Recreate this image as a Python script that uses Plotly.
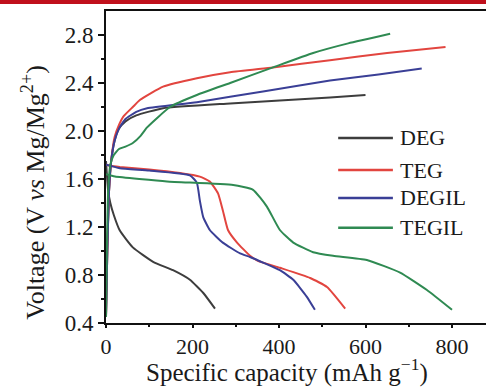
import plotly.graph_objects as go

# ---- data (capacity in mAh/g, voltage in V) ----
series_names = ["DEG", "TEG", "DEGIL", "TEGIL"]

deg_charge_cap = [0, 3, 7, 12, 20, 30, 45, 70, 132, 287, 518, 600]
deg_charge_v = [0.45, 1.0, 1.5, 1.75, 1.92, 2.02, 2.08, 2.13, 2.19, 2.23, 2.28, 2.3]
deg_dis_cap = [0, 5, 10, 18, 32, 62, 109, 155, 194, 225, 252]
deg_dis_v = [1.75, 1.5, 1.4, 1.3, 1.17, 1.03, 0.91, 0.84, 0.76, 0.65, 0.52]

teg_charge_cap = [0, 3, 7, 12, 20, 30, 40, 62, 79, 132, 210, 287, 386, 518, 650, 785]
teg_charge_v = [0.45, 1.0, 1.5, 1.75, 1.95, 2.05, 2.12, 2.2, 2.26, 2.37, 2.44, 2.49, 2.53, 2.59, 2.65, 2.7]
teg_dis_cap = [0, 10, 32, 100, 171, 217, 240, 259, 270, 282, 303, 333, 350, 402, 472, 511, 553]
teg_dis_v = [1.72, 1.71, 1.70, 1.68, 1.65, 1.62, 1.58, 1.48, 1.34, 1.175, 1.07, 0.96, 0.92, 0.86, 0.775, 0.70, 0.52]

degil_charge_cap = [0, 3, 7, 12, 20, 30, 45, 70, 95, 210, 363, 518, 630, 730]
degil_charge_v = [0.45, 1.0, 1.5, 1.75, 1.92, 2.02, 2.1, 2.16, 2.19, 2.24, 2.33, 2.42, 2.47, 2.52]
degil_dis_cap = [0, 10, 32, 100, 194, 210, 217, 225, 240, 270, 310, 333, 402, 433, 464, 483]
degil_dis_v = [1.72, 1.71, 1.69, 1.67, 1.63, 1.57, 1.42, 1.28, 1.175, 1.07, 0.98, 0.95, 0.84, 0.76, 0.62, 0.51]

tegil_charge_cap = [0, 2, 5, 10, 18, 30, 45, 62, 80, 95, 148, 210, 287, 386, 479, 560, 657]
tegil_charge_v = [0.45, 1.0, 1.5, 1.72, 1.8, 1.85, 1.87, 1.9, 1.96, 2.03, 2.2, 2.3, 2.4, 2.53, 2.65, 2.73, 2.81]
tegil_dis_cap = [0, 10, 21, 141, 294, 340, 372, 402, 433, 479, 525, 603, 680, 742, 800]
tegil_dis_v = [1.64, 1.63, 1.62, 1.58, 1.55, 1.51, 1.37, 1.175, 1.07, 0.99, 0.96, 0.925, 0.82, 0.675, 0.51]

colors = ["#3d3d3d", "#e2453f", "#3a3f96", "#2f8a52"]

x_ticks = [0, 200, 400, 600, 800]
y_ticks = [0.4, 0.8, 1.2, 1.6, 2.0, 2.4, 2.8]

curves = [
    (deg_charge_cap, deg_charge_v, deg_dis_cap, deg_dis_v),
    (teg_charge_cap, teg_charge_v, teg_dis_cap, teg_dis_v),
    (degil_charge_cap, degil_charge_v, degil_dis_cap, degil_dis_v),
    (tegil_charge_cap, tegil_charge_v, tegil_dis_cap, tegil_dis_v),
]

FONT = "Liberation Serif"

fig = go.Figure()
for name, col, (cc, cv, dc, dv) in zip(series_names, colors, curves):
    for xs, ys in ((cc, cv), (dc, dv)):
        fig.add_trace(go.Scatter(
            x=xs, y=ys, mode="lines", name=name, showlegend=False,
            line=dict(color=col, width=2, shape="spline", smoothing=0.45),
        ))

# custom legend (long line samples like the original)
leg_x0, leg_x1, leg_tx = 0.611, 0.755, 0.768
leg_ys = [0.593, 0.490, 0.401, 0.305]
shapes = []
annotations = []
for name, col, ly in zip(series_names, colors, leg_ys):
    shapes.append(dict(type="line", xref="paper", yref="paper",
                       x0=leg_x0, x1=leg_x1, y0=ly, y1=ly,
                       line=dict(color=col, width=2.5)))
    annotations.append(dict(xref="paper", yref="paper", x=leg_tx, y=ly,
                            text=name, showarrow=False, xanchor="left",
                            yanchor="middle",
                            font=dict(family=FONT, size=22, color="#1a1a1a")))

# red header bar at the very top
shapes.append(dict(type="rect", xref="paper", yref="paper",
                   x0=-0.3, x1=1.05, y0=1 + 7 / 312, y1=1 + 11.5 / 312,
                   fillcolor="#c0101c", line=dict(width=0)))

# axis titles
annotations.append(dict(xref="paper", yref="paper", x=0.476, y=-0.152,
                        text="Specific capacity (mAh g<sup>\u22121</sup>)",
                        showarrow=False, xanchor="center", yanchor="middle",
                        font=dict(family=FONT, size=25, color="#1a1a1a")))
annotations.append(dict(xref="paper", yref="paper", x=-0.19, y=0.42,
                        text="Voltage (V <i>vs</i> Mg/Mg<sup>2+</sup>)",
                        showarrow=False, xanchor="center", yanchor="middle",
                        textangle=-90,
                        font=dict(family=FONT, size=26, color="#1a1a1a")))

fig.update_layout(
    width=486, height=387,
    margin=dict(l=106, r=0, t=11, b=64),
    paper_bgcolor="white", plot_bgcolor="white",
    font=dict(family=FONT, size=23, color="#1a1a1a"),
    shapes=shapes, annotations=annotations,
    showlegend=False,
)
fig.update_xaxes(
    range=[0, 878.6], tickvals=x_ticks, ticktext=[str(v) for v in x_ticks],
    tickfont=dict(size=22),
    showgrid=False, zeroline=False, showline=True, linecolor="#111",
    linewidth=2, mirror=True, ticks="outside", ticklen=3, tickwidth=2,
    tickcolor="#111",
    minor=dict(tickvals=[100, 300, 500, 700], ticks="outside", ticklen=2,
               tickwidth=2, tickcolor="#111"),
    automargin=False,
)
fig.update_yaxes(
    range=[0.4, 3.0], tickvals=y_ticks, ticktext=[f"{v:.1f}" for v in y_ticks],
    showgrid=False, zeroline=False, showline=True, linecolor="#111",
    linewidth=2, mirror=False, ticks="outside", ticklen=6, tickwidth=2,
    tickcolor="#111",
    minor=dict(tickvals=[0.6, 1.0, 1.4, 1.8, 2.2, 2.6], ticks="outside",
               ticklen=3, tickwidth=2, tickcolor="#111"),
    automargin=False,
)

fig.write_html("out.html")
